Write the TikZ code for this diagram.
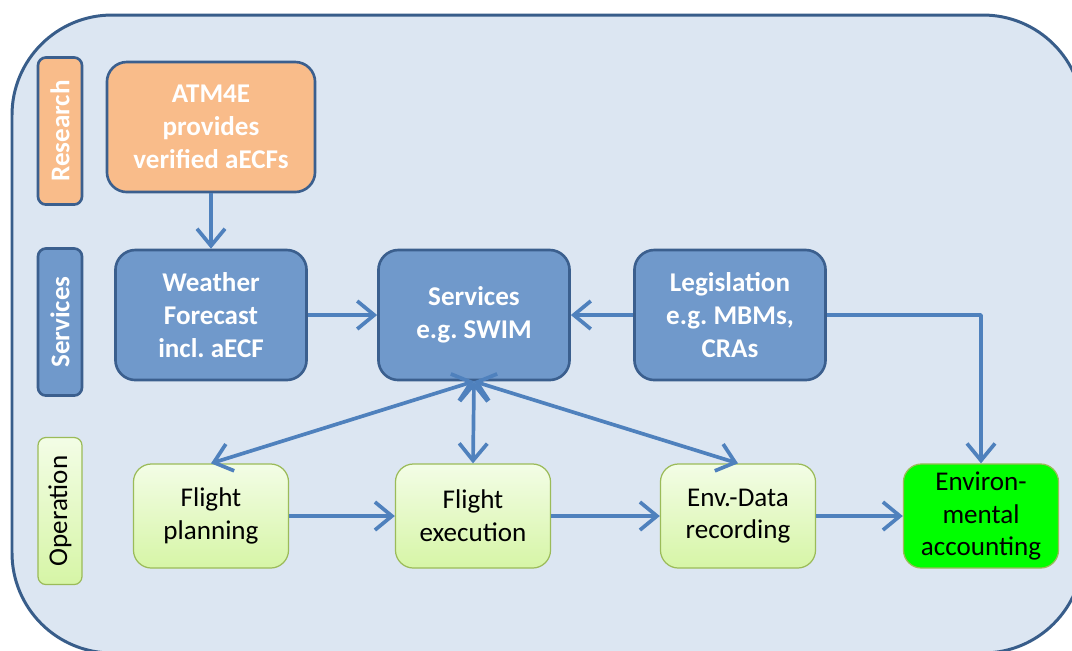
\documentclass[tikz,border=0pt]{standalone}
\usepackage{fontspec}
\setmainfont{Carlito}
\usetikzlibrary{arrows.meta}
\definecolor{bgfill}{HTML}{DCE6F2}
\definecolor{bgline}{HTML}{385D8A}
\definecolor{orfill}{HTML}{F9BC8A}
\definecolor{blfill}{HTML}{7099CB}
\definecolor{blline}{HTML}{3B5F8E}
\definecolor{grtop}{HTML}{F3FDE6}
\definecolor{grbot}{HTML}{D6F5A6}
\definecolor{grline}{HTML}{9BBB59}
\definecolor{arr}{HTML}{4F81BD}
\frenchspacing
\begin{document}
\begin{tikzpicture}[x=0.01cm, y=-0.01cm, font=\fontsize{7.7}{9.3}\selectfont, line join=round,
	>={Straight Barb[length=1.7mm, width=2.8mm, line width=1.05pt]},
	lab/.style={rotate=90, minimum width=1.47cm, minimum height=0.44cm, inner sep=0pt, rounded corners=0.08cm},
	box/.style={align=center, inner sep=0pt, rounded corners=0.2cm},
	dark/.style={box, draw=blline, line width=0.75pt, text=white, font=\fontsize{7.7}{9.3}\selectfont\bfseries, minimum width=1.91cm, minimum height=1.3cm},
	light/.style={box, draw=grline, line width=0.35pt, top color=grtop, bottom color=grbot, minimum width=1.55cm, minimum height=1.04cm, rounded corners=0.18cm},
	link/.style={draw=arr, line width=1.05pt}]
	\useasboundingbox (0,0) rectangle (1072,650);
	\clip (0,0) rectangle (1072,650);
	\draw[fill=bgfill, draw=bgline, line width=0.85pt, rounded corners=1cm] (12,15) rectangle (1083,653);
	% row labels
	\node[lab, draw=blline, line width=0.75pt, fill=orfill, text=white, font=\fontsize{7.7}{9.3}\selectfont\bfseries] (research) at (60,131) {Research};
	\node[lab, draw=blline, line width=0.75pt, fill=blfill, text=white, font=\fontsize{7.7}{9.3}\selectfont\bfseries] (services) at (60,322) {Services};
	\node[lab, draw=grline, line width=0.35pt, left color=grtop, right color=grbot, shading angle=0] (operation) at (60,511) {Operation};
	% boxes
	\node[dark, fill=orfill, minimum width=2.08cm] (atm) at (211,127) {ATM4E\\provides\\verified aECFs};
	\node[dark, fill=blfill] (weather) at (211,315) {Weather\\Forecast\\incl. aECF};
	\node[dark, fill=blfill] (swim) at (474,315) {Services\\e.g. SWIM};
	\node[dark, fill=blfill] (legis) at (730,315) {Legislation\\e.g. MBMs,\\CRAs};
	\node[light] (plan) at (211,516) {Flight\\planning};
	\node[light] (exec) at (473,516) {Flight\\execution};
	\node[light] (rec) at (738,516) {Env.-Data\\recording};
	\node[light, top color=green, bottom color=green] (acc) at (981,516) {Environ-\\mental\\accounting};
	% connectors
	\draw[link, ->] (atm) -- (weather);
	\draw[link, ->] (weather) -- (swim);
	\draw[link, ->] (legis) -- (swim);
	\draw[link, ->] (legis.east) -| (acc.north);
	\draw[link, ->] (plan) -- (exec);
	\draw[link, ->] (exec) -- (rec);
	\draw[link, ->] (rec) -- (acc);
	\foreach \t in {plan,exec,rec}
		\draw[link, <->] (swim.south) -- (\t.north);
\end{tikzpicture}
\end{document}
